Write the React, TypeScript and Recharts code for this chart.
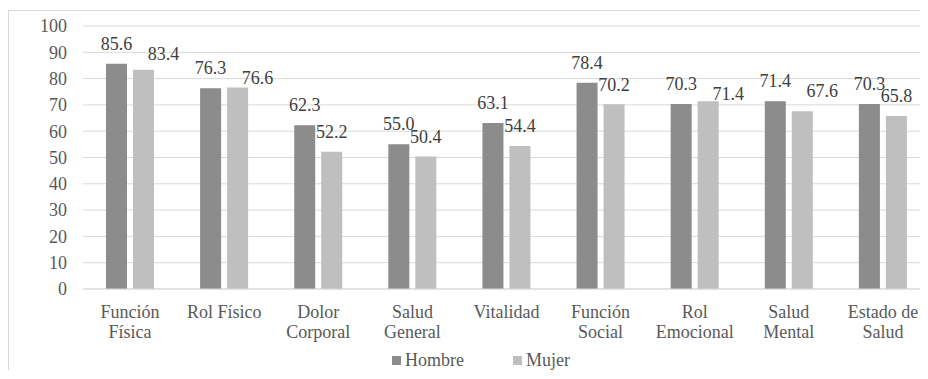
import { BarChart, Bar, XAxis, YAxis, CartesianGrid, Legend } from 'recharts'

const categories = [
  'Función\nFísica',
  'Rol Físico',
  'Dolor\nCorporal',
  'Salud\nGeneral',
  'Vitalidad',
  'Función\nSocial',
  'Rol\nEmocional',
  'Salud\nMental',
  'Estado de\nSalud',
]
const hombre = [85.6, 76.3, 62.3, 55.0, 63.1, 78.4, 70.3, 71.4, 70.3]
const mujer = [83.4, 76.6, 52.2, 50.4, 54.4, 70.2, 71.4, 67.6, 65.8]
const yTicks = [0, 10, 20, 30, 40, 50, 60, 70, 80, 90, 100]

const FONT = '"Times New Roman", Times, "Liberation Serif", "DejaVu Serif", serif'
const TEXT = '#595959'
const LABEL = '#404040'
const HOMBRE_COLOR = '#8c8c8c'
const MUJER_COLOR = '#bfbfbf'

const data = categories.map((name, i) => ({ name, hombre: hombre[i], mujer: mujer[i] }))

function CategoryTick(props: any) {
  const { x, y, payload } = props
  const lines = String(payload.value).split('\n')
  return (
    <text x={x} y={y} textAnchor="middle" fill={TEXT} fontSize={18} fontFamily={FONT}>
      {lines.map((line, i) => (
        <tspan key={i} x={x} dy={i === 0 ? 21 : 20}>
          {line}
        </tspan>
      ))}
    </text>
  )
}

function HombreLabel(props: any) {
  const { x, y, width, value } = props
  return (
    <text x={x + width / 2} y={y - 14} textAnchor="middle" fill={LABEL} fontSize={18} fontFamily={FONT}>
      {Number(value).toFixed(1)}
    </text>
  )
}

function MujerLabel(props: any) {
  const { x, y, width, height, value, index } = props
  // where the Hombre label of the same category sits, to avoid overlap
  const scale = height / value
  const hombreTop = y + height - hombre[index] * scale
  const hombreBase = hombreTop - 14
  let base = y - 13.5
  let cx = x + width / 2
  if (Math.abs(base - hombreBase) < 11.5) {
    base = hombreBase + 10
    cx += 20
  }
  return (
    <text x={cx} y={base} textAnchor="middle" fill={LABEL} fontSize={18} fontFamily={FONT}>
      {Number(value).toFixed(1)}
    </text>
  )
}

function renderLegend(props: any) {
  const { payload } = props
  return (
    <div style={{ display: 'flex', fontFamily: FONT, fontSize: 18, color: TEXT, lineHeight: '20px' }}>
      {payload.map((entry: any, i: number) => (
        <div key={i} style={{ display: 'flex', alignItems: 'center', marginRight: i === 0 ? 49 : 0 }}>
          <span style={{ width: 9, height: 9, background: entry.color, marginRight: 4, display: 'inline-block' }} />
          <span>{entry.value}</span>
        </div>
      ))}
    </div>
  )
}

export default function App() {
  return (
    <div
      style={{
        width: 920,
        height: 360,
        marginTop: 2,
        borderLeft: '1px solid #d9d9d9',
        borderTop: '1px solid #d9d9d9',
        boxSizing: 'border-box',
        overflow: 'hidden',
        fontFamily: FONT,
      }}
    >
      <BarChart
        width={922}
        height={358}
        data={data}
        margin={{ top: 15, right: 1, bottom: 0, left: 0 }}
        barSize={21}
        barGap={6}
        style={{ fontFamily: FONT }}
      >
        <CartesianGrid vertical={false} stroke="#d9d9d9" />
        <XAxis
          dataKey="name"
          interval={0}
          height={60}
          tickLine={false}
          axisLine={{ stroke: '#d9d9d9' }}
          tick={<CategoryTick />}
        />
        <YAxis
          width={74}
          domain={[0, 100]}
          ticks={yTicks}
          tickLine={false}
          axisLine={false}
          tickMargin={10}
          tick={{ fill: TEXT, fontSize: 18, fontFamily: FONT }}
        />
        <Legend
          content={renderLegend}
          wrapperStyle={{ left: 383, top: 339, width: 'auto' }}
        />
        <Bar dataKey="hombre" name="Hombre" fill={HOMBRE_COLOR} isAnimationActive={false} label={<HombreLabel />} />
        <Bar dataKey="mujer" name="Mujer" fill={MUJER_COLOR} isAnimationActive={false} label={<MujerLabel />} />
      </BarChart>
    </div>
  )
}
